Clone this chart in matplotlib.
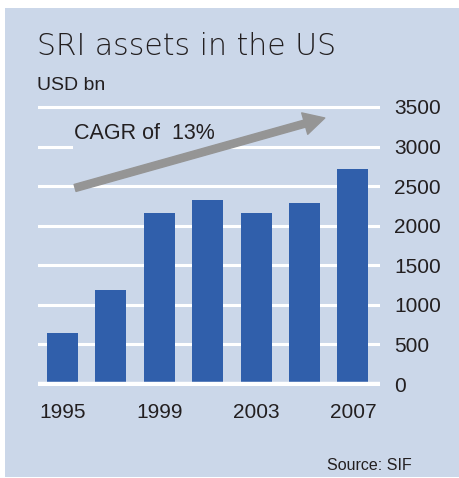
import matplotlib
matplotlib.use("Agg")
import matplotlib.pyplot as plt
from matplotlib.patches import Rectangle

years = ["1995", "1997", "1999", "2001", "2003", "2005", "2007"]
assets = [639, 1185, 2159, 2323, 2164, 2290, 2711]
xtick_labels = ["1995", "", "1999", "", "2003", "", "2007"]
yticks = [0, 500, 1000, 1500, 2000, 2500, 3000, 3500]

BG = "#cbd7e9"
BAR = "#305fab"
TXT = "#231f20"
ARROW = "#959595"

plt.rcParams['font.family'] = ['Liberation Sans', 'DejaVu Sans']

W, H = 460, 478
fig = plt.figure(figsize=(W / 100, H / 100), dpi=100)
fig.patch.set_facecolor("white")
# panel background
fig.patches.append(Rectangle((5 / W, 1 - 477 / H), 454 / W, 469 / H,
                             transform=fig.transFigure, facecolor=BG,
                             edgecolor="none", zorder=-5))

ax_l, ax_r = 38, 380
ax_top, ax_bot = 104.6, 386.4
ax = fig.add_axes([ax_l / W, 1 - ax_bot / H, (ax_r - ax_l) / W, (ax_bot - ax_top) / H])
ax.set_facecolor("none")
ax.set_zorder(2)

x = list(range(len(years)))
ax.bar(x, assets, width=0.64, color=BAR, zorder=3)
ax.set_xlim(-0.506, 6.561)
ax.set_ylim(-30, 3530)

for v in yticks[1:]:
    ax.axhline(v, color="white", lw=2.2, zorder=1)
ax.axhline(0, color="white", lw=3.2, zorder=4, solid_capstyle="round")

ax.yaxis.tick_right()
ax.set_yticks(yticks)
ax.set_yticklabels([str(v) for v in yticks])
ax.set_xticks(x)
ax.set_xticklabels(xtick_labels)
ax.tick_params(axis="y", length=0, pad=10, labelsize=15, labelcolor=TXT)
ax.tick_params(axis="x", length=0, pad=12, labelsize=15, labelcolor=TXT)
for s in ax.spines.values():
    s.set_visible(False)

# mask behind annotation text
ax.add_patch(Rectangle((0.102, 0.832), 0.454, 0.042, transform=ax.transAxes,
                       facecolor=BG, edgecolor="none", zorder=2))
ax.text(0.24, 3090, "CAGR of  13%", fontsize=15.5, color=TXT,
        ha="left", va="baseline", zorder=5)
ax.annotate("", xy=(5.42, 3361), xytext=(0.26, 2477),
            arrowprops=dict(arrowstyle="simple,head_width=0.8,head_length=0.75,tail_width=0.26",
                            color=ARROW, shrinkA=0, shrinkB=0, mutation_scale=20),
            zorder=6)

fig.text(37 / W, 1 - 55 / H, "SRI assets in the US", fontsize=21.5, color=TXT,
         ha="left", va="baseline", family=["DejaVu Sans"], fontweight="light")
fig.text(37 / W, 1 - 90 / H, "USD bn", fontsize=14, color=TXT,
         ha="left", va="baseline")
fig.text(412 / W, 1 - 470 / H, "Source: SIF", fontsize=11.5, color=TXT,
         ha="right", va="baseline")

fig.savefig("out.png", dpi=100, facecolor=fig.get_facecolor())
